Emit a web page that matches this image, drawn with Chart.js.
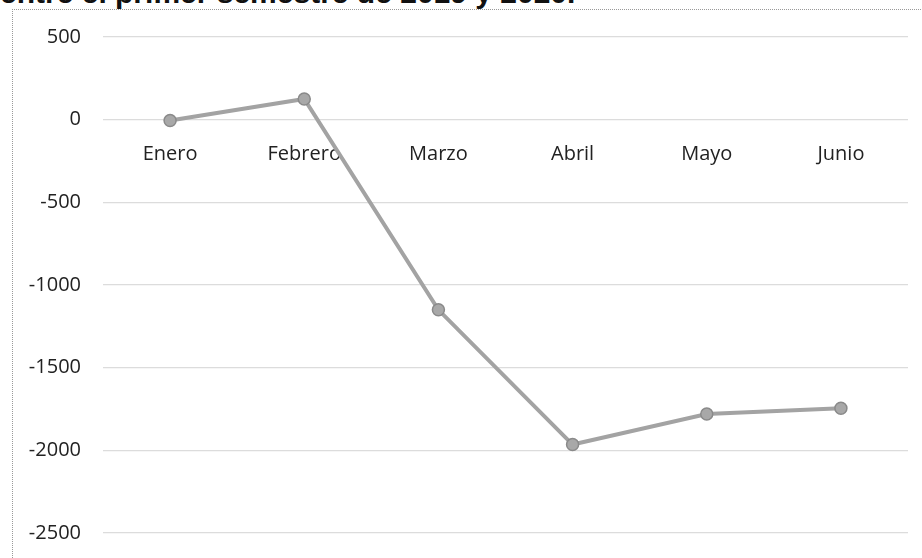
<!DOCTYPE html>
<html>
<head>
  <script src="https://cdn.jsdelivr.net/npm/chart.js"></script>
  <style>
    body { margin: 0; background: #fff; overflow: hidden; }
    #wrap { position: relative; width: 922px; height: 558px; overflow: hidden; }
    #title {
      position: absolute; left: 0; top: -24px; line-height: 30px; white-space: nowrap;
      font: bold 30px "Liberation Sans", Arial, sans-serif; color: #111;
    }
    #frame {
      position: absolute; left: 12px; top: 9px; width: 1000px; height: 1000px;
      border-top: 1px dotted #999; border-left: 1px dotted #999;
    }
    canvas { position: absolute; left: 0; top: 0; }
  </style>
</head>
<body>
  <div id="wrap">
    <div id="title">entre el primer semestre de 2019 y 2020.</div>
    <div id="frame"></div>
    <canvas id="myChart" width="922" height="567"></canvas>
  </div>
  <script>
    // meses del primer semestre
    var months = ['Enero', 'Febrero', 'Marzo', 'Abril', 'Mayo', 'Junio']
    // diferencia 2020 - 2019
    var diff = [-5, 125, -1150, -1965, -1780, -1745]
    var yMin = -2500
    var yMax = 500
    var yStep = 500

    var labelFont = { family: '"Open Sans", sans-serif', size: 20 }

    var ctx = document.getElementById('myChart').getContext('2d')
    var chart = new Chart(ctx, {
      type: 'line',
      data: {
        labels: months,
        datasets: [{
          label: 'Diferencia',
          data: diff,
          borderColor: '#a3a3a3',
          borderWidth: 4,
          pointRadius: 6,
          pointBackgroundColor: '#a8a8a8',
          pointBorderColor: '#8a8a8a',
          pointBorderWidth: 1.5,
          tension: 0
        }]
      },
      options: {
        responsive: false,
        animation: false,
        layout: { padding: { left: 0, right: 14, top: 37, bottom: 17 } },
        plugins: {
          legend: { display: false },
          tooltip: { enabled: false }
        },
        scales: {
          x: {
            position: { y: 0 },
            offset: true,
            grid: { display: false, drawTicks: false },
            border: { display: false },
            ticks: { color: '#222', font: labelFont, padding: 23, maxRotation: 0 }
          },
          y: {
            min: yMin,
            max: yMax,
            afterFit: function (s) { s.width = 103 },
            grid: { color: '#dcdcdc', lineWidth: 1.2, drawTicks: false },
            border: { display: false },
            ticks: {
              stepSize: yStep, color: '#222', font: labelFont, padding: 22,
              callback: function (v) { return String(v) }
            }
          }
        }
      }
    })
  </script>
</body>
</html>
